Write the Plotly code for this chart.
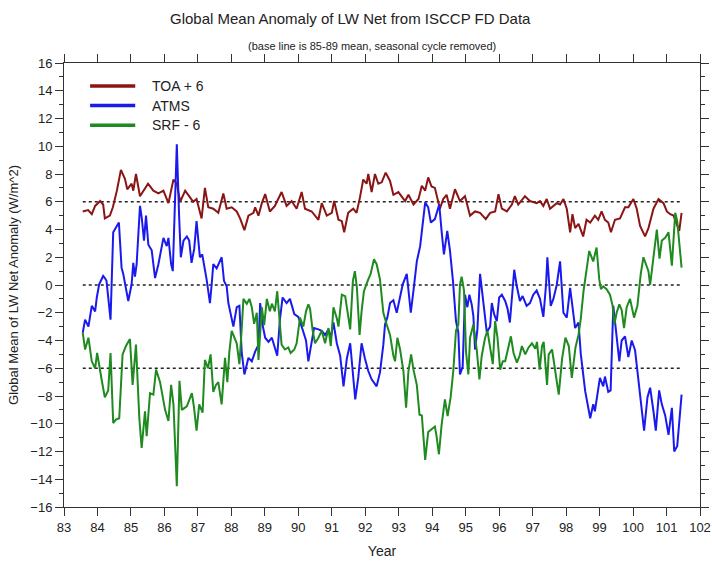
import plotly.graph_objects as go

# ---- data: global-mean LW net anomalies (W/m^2), x in years since 1900 ----
toa_year = [
    83.56, 83.72, 83.83, 83.93, 84.08, 84.17, 84.22, 84.37, 84.46, 84.58,
    84.70, 84.82, 84.89, 85.02, 85.07, 85.15, 85.27, 85.37, 85.51, 85.67,
    85.82, 85.97, 86.12, 86.27, 86.37, 86.47, 86.62, 86.71, 86.86, 86.96,
    87.11, 87.21, 87.31, 87.46, 87.61, 87.76, 87.86, 88.01, 88.16, 88.26,
    88.39, 88.51, 88.66, 88.71, 88.81, 88.91, 89.01, 89.15, 89.30, 89.50,
    89.65, 89.80, 89.95, 90.10, 90.20, 90.40, 90.60, 90.70, 90.85, 91.00,
    91.07, 91.20, 91.30, 91.37, 91.49, 91.64, 91.74, 91.84, 91.94, 92.04,
    92.09, 92.19, 92.29, 92.39, 92.49, 92.61, 92.74, 92.84, 92.99, 93.19,
    93.29, 93.44, 93.59, 93.69, 93.79, 93.88, 93.98, 94.08, 94.23, 94.33,
    94.43, 94.53, 94.68, 94.83, 94.98, 95.13, 95.28, 95.43, 95.60, 95.73,
    95.88, 95.98, 96.08, 96.23, 96.38, 96.47, 96.57, 96.77, 96.92, 97.12,
    97.22, 97.32, 97.42, 97.52, 97.72, 97.82, 97.92, 98.02, 98.12, 98.19,
    98.27, 98.37, 98.51, 98.61, 98.72, 98.86, 98.96, 99.06, 99.16, 99.26,
    99.34, 99.46, 99.61, 99.76, 99.86, 100.01, 100.11, 100.21, 100.36, 100.46,
    100.61, 100.76, 100.91, 101.01, 101.11, 101.21, 101.31, 101.38, 101.45,
]
toa_value = [
    5.3, 5.4, 5.1, 5.7, 6.05, 5.8, 4.8, 5.0, 5.6, 6.8,
    8.3, 7.65, 6.9, 7.3, 6.8, 8.0, 6.4, 6.8, 7.3, 6.8,
    6.6, 6.8, 5.9, 7.6, 7.3, 6.0, 6.8, 6.5, 6.0, 6.2,
    4.8, 7.0, 5.6, 5.5, 5.2, 6.6, 5.5, 5.6, 5.3, 4.8,
    3.95, 5.0, 5.2, 5.6, 5.0, 5.9, 6.55, 5.3, 5.7, 6.7,
    5.7, 6.05, 5.5, 6.7, 5.5, 5.3, 4.7, 5.9, 5.0, 5.2,
    6.05, 4.7, 4.6, 3.8, 5.2, 5.5, 5.2, 6.3, 7.6, 7.3,
    8.0, 6.7, 8.0, 7.3, 7.4, 8.1, 7.5, 6.5, 6.7, 6.05,
    6.5, 5.8, 6.2, 7.15, 6.8, 7.75, 7.1, 7.0, 5.5, 6.2,
    6.5, 5.5, 6.9, 6.05, 6.4, 5.0, 5.3, 5.2, 4.75, 5.2,
    5.3, 6.55, 5.5, 5.3, 5.8, 6.4, 5.8, 6.4, 6.05, 5.9,
    6.05, 5.7, 6.2, 5.5, 5.9, 5.8, 6.2, 5.5, 3.8, 5.1,
    4.1, 4.4, 3.5, 4.7, 4.5, 5.0, 4.7, 5.3, 4.7, 4.5,
    3.8, 4.7, 4.8, 5.6, 5.6, 6.2, 5.5, 4.26, 3.5, 4.1,
    5.5, 6.2, 5.9, 5.3, 5.1, 5.0, 4.3, 3.9, 5.2,
]

atms_year = [
    83.56, 83.63, 83.73, 83.83, 83.93, 83.98, 84.05, 84.17, 84.22, 84.27,
    84.39, 84.47, 84.64, 84.72, 84.77, 84.87, 84.92, 85.02, 85.07, 85.12,
    85.17, 85.27, 85.32, 85.39, 85.45, 85.52, 85.62, 85.72, 85.82, 85.97,
    86.07, 86.12, 86.20, 86.25, 86.31, 86.37, 86.44, 86.49, 86.57, 86.67,
    86.74, 86.81, 86.89, 86.96, 87.06, 87.13, 87.26, 87.36, 87.41, 87.46,
    87.56, 87.71, 87.78, 87.86, 87.91, 87.96, 88.06, 88.16, 88.24, 88.31,
    88.39, 88.51, 88.61, 88.71, 88.81, 88.86, 88.93, 89.01, 89.11, 89.21,
    89.30, 89.37, 89.45, 89.53, 89.65, 89.75, 89.88, 90.00, 90.10, 90.23,
    90.30, 90.38, 90.47, 90.60, 90.70, 90.80, 90.90, 90.97, 91.05, 91.15,
    91.25, 91.35, 91.45, 91.55, 91.63, 91.70, 91.79, 91.89, 91.99, 92.09,
    92.19, 92.34, 92.44, 92.54, 92.59, 92.66, 92.74, 92.84, 92.94, 93.04,
    93.12, 93.24, 93.36, 93.44, 93.54, 93.64, 93.79, 93.88, 93.96, 94.08,
    94.21, 94.28, 94.35, 94.45, 94.53, 94.62, 94.67, 94.71, 94.78, 94.83,
    94.91, 94.98, 95.05, 95.11, 95.18, 95.23, 95.28, 95.35, 95.43, 95.51,
    95.58, 95.63, 95.73, 95.78, 95.85, 95.93, 96.00, 96.08, 96.18, 96.25,
    96.32, 96.38, 96.45, 96.52, 96.62, 96.70, 96.82, 96.92, 97.02, 97.12,
    97.22, 97.32, 97.40, 97.44, 97.54, 97.62, 97.72,
    97.82, 97.92, 98.02, 98.12, 98.27, 98.37, 98.44, 98.57, 98.72, 98.81,
    98.86, 99.01, 99.11, 99.16, 99.26, 99.33, 99.41, 99.49, 99.59, 99.66,
    99.76, 99.86, 99.96, 100.06, 100.16, 100.26, 100.33, 100.43, 100.51, 100.61,
    100.68, 100.78, 100.86, 100.96, 101.06, 101.16, 101.23, 101.32, 101.38, 101.45,
]
atms_value = [
    -3.44, -2.5, -3.0, -1.5, -1.9, -0.9, 0.05, 0.65, 0.5, 0.3,
    -2.5, 3.8, 4.5, 1.25, 0.8, -0.4, -1.15, 0.05, 1.6, 0.6,
    1.5, 5.7, 4.9, 3.2, 5.0, 2.9, 2.5, 0.5, 1.5, 3.4,
    2.8, 3.4, 1.5, 1.0, 5.1, 10.15, 4.9, 2.0, 3.2, 3.5,
    3.2, 1.6, 2.6, 4.6, 2.0, 2.2, 0.4, -1.3, 0.0, 1.5,
    1.2, 2.0, 0.3, -0.1, -1.3, -1.9, -3.0, -1.6, -1.5, -4.9,
    -6.45, -5.25, -5.5, -4.8, -4.3, -1.3, -2.85, -3.8, -4.1, -3.8,
    -4.5, -5.1, -2.5, -0.9, -1.3, -1.0, -2.1, -2.3, -3.0, -4.0,
    -5.5, -4.2, -3.1, -3.2, -3.3, -3.6, -3.2, -3.8, -2.7, -4.2,
    -5.1, -7.3, -5.3, -4.2, -6.1, -8.25, -6.7, -4.2, -5.3, -6.2,
    -6.8, -7.3, -6.3, -4.3, -2.85, -2.35, -1.3, -1.1, -2.0, -0.8,
    0.05, 0.8, -2.0, -0.4, 1.7, 2.8, 5.95, 5.6, 4.5, 4.75,
    5.8, 3.9, 2.2, 3.9, 2.5, 0.3, -1.4, -2.6, -3.4, -6.45,
    -5.9, -0.7, -1.6, -0.7, -1.4, -2.25, -4.65, -3.2, 0.8, -0.8,
    -2.35, -3.4, -3.0, -1.3, -2.1, -2.6, -0.9, -0.7, -1.15, -1.7,
    -2.7, -1.15, 1.1, 0.0, -1.15, -0.8, -1.5, -1.3, -0.7, -0.4,
    -1.0, -2.3, 0.0, 2.0, -1.5, -1.0, 0.0,
    1.7, -2.0, -2.35, -0.2, -3.1, -2.7, -5.0, -7.65, -9.6, -8.6,
    -9.1, -6.7, -7.3, -6.6, -7.7, -7.6, -1.5, -3.3, -5.5, -4.0,
    -3.7, -5.2, -4.0, -4.7, -6.7, -9.1, -10.5, -8.1, -7.4, -9.1,
    -10.5, -7.6, -8.6, -9.4, -10.8, -8.85, -12.0, -11.6, -10.0, -7.9,
]

srf_year = [
    83.56, 83.63, 83.73, 83.83, 83.93, 83.99, 84.13, 84.22, 84.32, 84.39,
    84.47, 84.55, 84.65, 84.75, 84.85, 84.97, 85.05, 85.15, 85.25, 85.32,
    85.42, 85.47, 85.57, 85.67, 85.75, 85.87, 86.02, 86.12, 86.20, 86.27,
    86.37, 86.45, 86.52, 86.67, 86.82, 86.88, 86.96, 87.04, 87.14, 87.21,
    87.30, 87.38, 87.46, 87.54, 87.61, 87.71, 87.81, 87.88, 87.94, 88.01,
    88.16, 88.24, 88.31, 88.36, 88.46, 88.54, 88.61, 88.68, 88.76, 88.81,
    88.91, 88.98, 89.06, 89.15, 89.21, 89.30, 89.37, 89.43, 89.50, 89.60,
    89.70, 89.77, 89.88, 89.95, 90.00, 90.05, 90.15, 90.23, 90.30, 90.35,
    90.43, 90.50, 90.60, 90.70, 90.80, 90.90, 90.97, 91.05, 91.10, 91.15,
    91.20, 91.30, 91.40, 91.47, 91.55, 91.63, 91.69, 91.75, 91.83, 91.89,
    91.96, 92.09, 92.16, 92.26, 92.34, 92.44, 92.54, 92.64, 92.74, 92.84,
    92.89, 92.96, 93.04, 93.14, 93.22, 93.29, 93.37, 93.44, 93.54, 93.62,
    93.69, 93.79, 93.88, 93.98, 94.08, 94.13, 94.20, 94.28, 94.38, 94.46,
    94.55, 94.63, 94.71, 94.78, 94.83, 94.88, 94.95, 95.01, 95.08, 95.13,
    95.23, 95.33, 95.41, 95.48, 95.58, 95.65, 95.73, 95.81, 95.88, 95.95,
    96.03, 96.11, 96.18, 96.28, 96.35, 96.43, 96.53, 96.61, 96.68, 96.78,
    96.88, 96.98, 97.08, 97.13, 97.21, 97.28, 97.33, 97.43, 97.48, 97.58,
    97.68, 97.78, 97.88, 97.98, 98.08, 98.17, 98.28, 98.37, 98.44, 98.52,
    98.62, 98.69, 98.81, 98.91, 98.99, 99.04, 99.11, 99.21, 99.31, 99.39,
    99.44, 99.51, 99.59, 99.66, 99.73, 99.81, 99.91, 99.98, 100.03, 100.13,
    100.23, 100.31, 100.39, 100.46, 100.51, 100.61, 100.71, 100.79, 100.86, 100.96,
    101.06, 101.16, 101.21, 101.26, 101.32, 101.38, 101.45,
]
srf_value = [
    -3.44, -4.65, -3.8, -5.5, -6.0, -4.9, -6.9, -8.1, -7.6, -4.9,
    -9.95, -9.7, -9.6, -5.0, -4.4, -3.9, -7.2, -4.3, -9.6, -11.75,
    -9.1, -10.9, -7.8, -7.9, -6.1, -7.0, -9.0, -9.8, -7.2, -8.6,
    -14.5, -6.9, -9.0, -8.75, -7.8, -8.75, -10.5, -8.6, -9.2, -5.4,
    -6.0, -5.0, -7.7, -7.2, -7.0, -8.6, -5.25, -7.0, -4.8, -3.3,
    -4.2, -5.7, -3.1, -1.0, -1.35, -1.0, -1.6, -2.8, -2.0, -5.4,
    -1.6, -2.9, -1.0, -1.9, -1.35, -1.9, -0.45, -2.1, -4.3, -4.65,
    -4.5, -4.9, -4.65, -4.2, -3.2, -2.35, -3.0, -1.9, -1.4, -1.7,
    -3.3, -4.2, -3.8, -3.3, -4.2, -3.1, -4.4, -1.6, -2.0, -2.4,
    -3.0, -0.7, -0.8, -2.1, -3.2, 0.3, 1.0, -0.2, -3.6, -1.9,
    -0.45, 0.4, 0.8, 1.85, 1.5, 0.4, -2.0, -2.85, -3.6, -5.1,
    -5.5, -3.8, -4.65, -6.2, -8.85, -6.2, -5.0, -6.1, -7.2, -9.35,
    -9.4, -12.6, -10.6, -10.4, -10.2, -10.9, -12.2, -10.1, -8.25, -9.45,
    -8.1, -6.2, -3.3, -2.85, 0.05, 0.6, -0.4, -4.8, -6.45, -3.8,
    -2.85, -4.65, -6.8, -5.1, -3.8, -3.3, -4.5, -5.7, -2.6, -3.8,
    -6.1, -5.5, -5.5, -4.4, -3.7, -4.9, -5.6, -5.1, -4.4, -5.0,
    -4.5, -4.2, -4.6, -4.1, -6.1, -4.4, -4.1, -7.2, -5.0, -4.65,
    -6.2, -7.9, -5.3, -3.8, -4.4, -6.7, -4.5, -3.6, -2.4, -0.45,
    1.25, 2.45, 1.7, 2.7, 0.4, -0.3, -0.1, -0.3, -0.7, -1.5,
    -2.85, -2.0, -1.4, -1.8, -3.1, -1.6, -1.0, -1.7, -2.35, -1.5,
    0.8, 2.0, 1.5, 1.0, 0.0, 1.8, 4.0, 1.9, 3.2, 3.4,
    3.8, 1.4, 3.2, 5.2, 4.6, 3.2, 1.25,
]

assert len(toa_year) == len(toa_value)
assert len(atms_year) == len(atms_value)
assert len(srf_year) == len(srf_value)

# reference levels: TOA offset (+6), zero, SRF offset (-6)
reference_levels = [6, 0, -6]

series_names = ["TOA + 6", "ATMS", "SRF - 6"]
year_ticks = list(range(83, 103))

FONT = "Liberation Sans, Arial, sans-serif"
TEXT = "#222222"
series_colors = ["#8B1515", "#1A1AEE", "#1F8A1F"]

fig = go.Figure()

span = [min(toa_year[0], atms_year[0], srf_year[0]),
        max(toa_year[-1], atms_year[-1], srf_year[-1])]
for level in reference_levels:
    fig.add_trace(go.Scatter(
        x=span, y=[level, level], mode="lines", showlegend=False,
        line=dict(color=TEXT, width=1.6, dash="dot"), hoverinfo="skip",
    ))

for name, color, xs, ys in zip(series_names, series_colors,
                                [toa_year, atms_year, srf_year],
                                [toa_value, atms_value, srf_value]):
    fig.add_trace(go.Scatter(x=xs, y=ys, mode="lines", name=name,
                             showlegend=False, line=dict(color=color, width=2)))

# key in the upper-left corner: a short thick line and the series name per row
key_shapes, key_labels = [], []
for i, (name, color) in enumerate(zip(series_names, series_colors)):
    y = 0.948 - i * 0.044
    key_shapes.append(dict(type="line", xref="paper", yref="paper",
                           x0=0.041, x1=0.112, y0=y, y1=y,
                           line=dict(color=color, width=3.5)))
    key_labels.append(dict(text=name, xref="paper", yref="paper", x=0.135, y=y,
                           xanchor="left", yanchor="middle", showarrow=False,
                           font=dict(family=FONT, size=14, color=TEXT)))

axis_common = dict(
    showline=True, linecolor="#333333", linewidth=1,
    ticks="outside", tickcolor="#333333", mirror="allticks",
    showgrid=False, zeroline=False, automargin=False,
    tickfont=dict(family=FONT, size=13, color=TEXT),
)

fig.update_xaxes(
    range=[83, 102], tickmode="array", tickvals=year_ticks,
    ticktext=[str(v) for v in year_ticks], ticklen=8,
    title=dict(text="Year", font=dict(family=FONT, size=14, color=TEXT), standoff=12),
    **axis_common,
)
fig.update_yaxes(
    range=[-16, 16], dtick=2, ticklen=8,
    minor=dict(dtick=1, ticks="outside", ticklen=4, tickcolor="#333333"),
    title=dict(text="Global Mean of LW Net Anomaly (W/m^2)",
               font=dict(family=FONT, size=13, color=TEXT), standoff=8),
    **axis_common,
)

fig.update_layout(
    width=712, height=567,
    margin=dict(l=64, r=12, t=63, b=60),
    paper_bgcolor="white", plot_bgcolor="white",
    font=dict(family=FONT, color=TEXT),
    showlegend=False,
    shapes=key_shapes,
    annotations=[
        dict(text="Global Mean Anomaly of LW Net from ISCCP FD Data",
             xref="paper", yref="paper", x=0.45, y=1.101, showarrow=False,
             font=dict(family=FONT, size=15, color=TEXT),
             xanchor="center", yanchor="middle"),
        dict(text="(base line is 85-89 mean, seasonal cycle removed)",
             xref="paper", yref="paper", x=0.484, y=1.038, showarrow=False,
             font=dict(family=FONT, size=11, color=TEXT),
             xanchor="center", yanchor="middle"),
    ] + key_labels,
)

fig.write_html("out.html")
